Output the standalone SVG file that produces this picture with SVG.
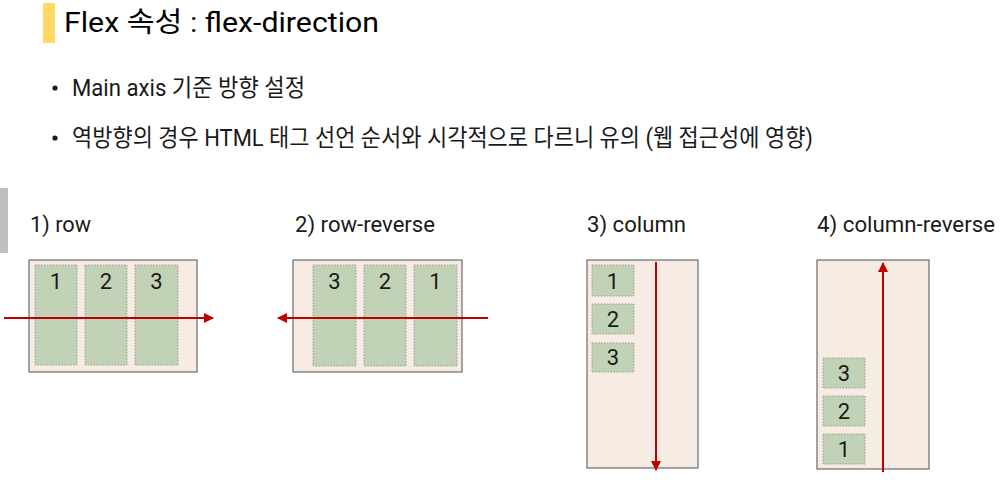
<svg xmlns="http://www.w3.org/2000/svg" width="1006" height="483" viewBox="0 0 1006 483">
  <defs>
    <style>
      .t { font-family: Roboto, "Noto Sans CJK KR", sans-serif; fill: #1a1a1a; }
      .title { font-size: 28px; fill: #000000; }
      .bul { font-size: 23.5px; }
      .lab { font-size: 22px; }
      .num { font-size: 22px; text-anchor: middle; }
      .box { fill: #f7ece4; stroke: #6b6b6b; stroke-width: 1.2; }
      .item { fill: #c2d2b6; stroke: #9a9a9a; stroke-width: 1; stroke-dasharray: 1.5 1.5; }
      .axis { stroke: #c00000; stroke-width: 2; fill: none; }
    </style>
    <marker id="ah" viewBox="0 0 10 10" refX="9" refY="5" markerWidth="5" markerHeight="5" orient="auto" markerUnits="strokeWidth">
      <path d="M0,0 L10,5 L0,10 z" fill="#c00000"/>
    </marker>
  </defs>
  <rect width="1006" height="483" fill="#ffffff"/>

  <g id="header">
    <rect x="43" y="3" width="12" height="40" fill="#ffd966"/>
    <text class="t title" x="64" y="32" textLength="315" lengthAdjust="spacingAndGlyphs">Flex 속성 : flex-direction</text>
    <rect x="0" y="188" width="8" height="65" fill="#bfbfbf"/>
  </g>

  <g id="bullets">
    <circle cx="55" cy="88" r="2.6" fill="#1a1a1a"/>
    <text class="t bul" x="72" y="96" textLength="233" lengthAdjust="spacingAndGlyphs">Main axis 기준 방향 설정</text>
    <circle cx="55" cy="138" r="2.6" fill="#1a1a1a"/>
    <text class="t bul" x="72" y="146" textLength="741" lengthAdjust="spacingAndGlyphs">역방향의 경우 HTML 태그 선언 순서와 시각적으로 다르니 유의 (웹 접근성에 영향)</text>
  </g>

  <g id="row">
    <text class="t lab" x="30" y="232" textLength="61" lengthAdjust="spacingAndGlyphs">1) row</text>
    <rect class="box" x="29" y="260" width="168" height="112"/>
    <rect class="item" x="35" y="265" width="42" height="100"/>
    <rect class="item" x="85" y="265" width="42" height="100"/>
    <rect class="item" x="135" y="265" width="43" height="100"/>
    <text class="t num" x="56" y="289">1</text>
    <text class="t num" x="106" y="289">2</text>
    <text class="t num" x="156.5" y="289">3</text>
  </g>

  <g id="row-reverse">
    <text class="t lab" x="295" y="232" textLength="140" lengthAdjust="spacingAndGlyphs">2) row-reverse</text>
    <rect class="box" x="293" y="260" width="169" height="112"/>
    <rect class="item" x="313" y="265" width="43" height="101"/>
    <rect class="item" x="364" y="265" width="42" height="101"/>
    <rect class="item" x="414" y="265" width="43" height="101"/>
    <text class="t num" x="334.5" y="289">3</text>
    <text class="t num" x="385" y="289">2</text>
    <text class="t num" x="435.5" y="289">1</text>
  </g>

  <g id="column">
    <text class="t lab" x="587" y="232" textLength="99" lengthAdjust="spacingAndGlyphs">3) column</text>
    <rect class="box" x="587" y="260" width="111" height="208"/>
    <rect class="item" x="592" y="265" width="42" height="31"/>
    <rect class="item" x="592" y="304" width="42" height="30"/>
    <rect class="item" x="592" y="343" width="42" height="29"/>
    <text class="t num" x="613" y="288.5">1</text>
    <text class="t num" x="613" y="327">2</text>
    <text class="t num" x="613" y="365">3</text>
  </g>

  <g id="column-reverse">
    <text class="t lab" x="817" y="232" textLength="178" lengthAdjust="spacingAndGlyphs">4) column-reverse</text>
    <rect class="box" x="817" y="260" width="112" height="209"/>
    <rect class="item" x="823" y="358" width="42" height="30"/>
    <rect class="item" x="823" y="396" width="42" height="30"/>
    <rect class="item" x="823" y="434" width="42" height="30"/>
    <text class="t num" x="844" y="381">3</text>
    <text class="t num" x="844" y="419">2</text>
    <text class="t num" x="844" y="457">1</text>
  </g>

  <g id="connectors">
    <line class="axis" x1="4" y1="318" x2="213" y2="318" marker-end="url(#ah)"/>
    <line class="axis" x1="488" y1="318" x2="278" y2="318" marker-end="url(#ah)"/>
    <line class="axis" x1="656" y1="262" x2="656" y2="470" marker-end="url(#ah)"/>
    <line class="axis" x1="883" y1="472" x2="883" y2="263" marker-end="url(#ah)"/>
  </g>
</svg>
